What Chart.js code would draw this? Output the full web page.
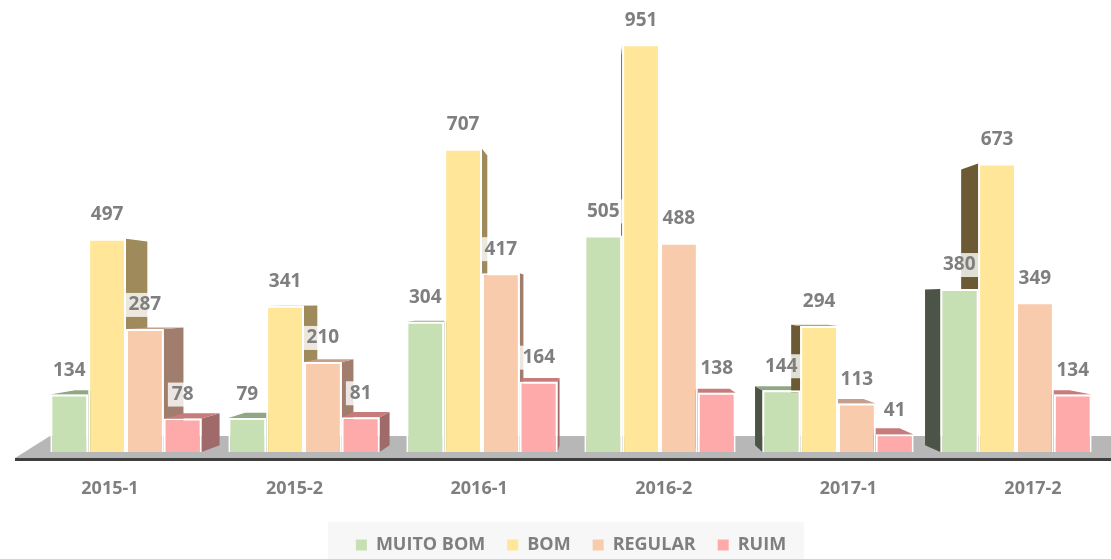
<!DOCTYPE html>
<html>
<head>
<meta charset="utf-8">
<script src="https://cdn.jsdelivr.net/npm/chart.js@4.4.1/dist/chart.umd.min.js"></script>
<style>
    html, body { margin: 0; padding: 0; background: #fff; overflow: hidden; }
    #wrap { position: relative; width: 1142px; height: 559px; }
</style>
</head>
<body>
<div id="wrap"><canvas id="avaliacaoChart"></canvas></div>
<script>
const categories = ['2015-1', '2015-2', '2016-1', '2016-2', '2017-1', '2017-2'];
const seriesNames = ['MUITO BOM', 'BOM', 'REGULAR', 'RUIM'];
const muitoBom = [134, 79, 304, 505, 144, 380];
const bom = [497, 341, 707, 951, 294, 673];
const regular = [287, 210, 417, 488, 113, 349];
const ruim = [78, 81, 164, 138, 41, 134];

// front / top / right side / left side shades for each series
const palette = [
    { front: '#c6e0b4', top: '#8fa783', right: '#7d9270', left: '#4b5446' },
    { front: '#ffe699', top: '#b9a465', right: '#9e8a5a', left: '#6b5a33' },
    { front: '#f8cbad', top: '#c4a08c', right: '#a07d6d', left: '#7a5a4c' },
    { front: '#ffaaaa', top: '#c77b7b', right: '#a06a6a', left: '#7a4848' }
];

const TEXT_GREY = '#7f7f7f';
const FONT = '"Open Sans", "DejaVu Sans", sans-serif';

// fake perspective: back edges pulled toward a vanishing point
const VP = { x: 600, y: 300 };
const DEPTH = 0.045;

function back(px, py) {
    return [px + (VP.x - px) * DEPTH, py + (VP.y - py) * DEPTH];
}

function poly(ctx, pts, color) {
    ctx.beginPath();
    ctx.moveTo(pts[0][0], pts[0][1]);
    for (let i = 1; i < pts.length; i++) ctx.lineTo(pts[i][0], pts[i][1]);
    ctx.closePath();
    ctx.fillStyle = color;
    ctx.fill();
}

const floorPlugin = {
    id: 'floor',
    beforeDatasetsDraw(chart) {
        const ctx = chart.ctx;
        const zeroY = chart.scales.y.getPixelForValue(0);
        const left = chart.chartArea.left - 22;
        ctx.save();
        poly(ctx, [[left, zeroY + 6], [left + 35, zeroY - 16], [chart.width, zeroY - 16], [chart.width, zeroY + 6]], '#b7b7b7');
        ctx.fillStyle = '#3f3f3f';
        ctx.fillRect(left, zeroY + 6, chart.width, 3);
        ctx.restore();
    }
};

const depthPlugin = {
    id: 'depth',
    beforeDatasetsDraw(chart) {
        const ctx = chart.ctx;
        ctx.save();
        chart.data.datasets.forEach((ds, di) => {
            const meta = chart.getDatasetMeta(di);
            meta.data.forEach((bar) => {
                const p = bar.getProps(['x', 'y', 'base', 'width'], true);
                const l = p.x - p.width / 2, r = p.x + p.width / 2;
                const t = p.y, b = p.base;
                const bl = back(l, t), br = back(r, t), blb = back(l, b), brb = back(r, b);
                if (r < VP.x) {
                    poly(ctx, [[r, t], [r, b], brb, br], palette[di].right);
                } else if (l > VP.x) {
                    poly(ctx, [[l, t], [l, b], blb, bl], palette[di].left);
                }
                if (t > VP.y) {
                    poly(ctx, [[l, t], [r, t], br, bl], palette[di].top);
                }
            });
        });
        ctx.restore();
    }
};

const valueLabelPlugin = {
    id: 'valueLabels',
    afterDatasetsDraw(chart) {
        const ctx = chart.ctx;
        ctx.save();
        ctx.font = 'bold 19px ' + FONT;
        ctx.textAlign = 'center';
        ctx.textBaseline = 'middle';
        chart.data.datasets.forEach((ds, di) => {
            chart.getDatasetMeta(di).data.forEach((bar, i) => {
                const txt = String(ds.data[i]);
                const cy = bar.y - 24;
                const w = ctx.measureText(txt).width + 8;
                ctx.fillStyle = 'rgba(255,255,255,0.8)';
                ctx.fillRect(bar.x - w / 2, cy - 12, w, 24);
                ctx.fillStyle = TEXT_GREY;
                ctx.fillText(txt, bar.x, cy);
            });
        });
        ctx.restore();
    }
};

const legendBoxPlugin = {
    id: 'legendBox',
    beforeDraw(chart) {
        const boxes = chart.legend && chart.legend.legendHitBoxes;
        if (!boxes || !boxes.length) return;
        const x0 = Math.min(...boxes.map(b => b.left)) - 28;
        const x1 = Math.max(...boxes.map(b => b.left + b.width)) + 18;
        const ctx = chart.ctx;
        ctx.save();
        ctx.fillStyle = '#f7f7f7';
        ctx.fillRect(x0, boxes[0].top - 14, x1 - x0, chart.height);
        ctx.restore();
    }
};

const seriesData = [muitoBom, bom, regular, ruim];

new Chart(document.getElementById('avaliacaoChart'), {
    type: 'bar',
    data: {
        labels: categories,
        datasets: seriesNames.map((name, i) => ({
            label: name,
            data: seriesData[i],
            backgroundColor: palette[i].front,
            borderColor: '#ffffff',
            borderWidth: 2,
            borderSkipped: 'bottom',
            barPercentage: 1,
            categoryPercentage: 0.85
        }))
    },
    options: {
        responsive: true,
        maintainAspectRatio: false,
        animation: false,
        layout: { padding: { left: 37, right: 37, top: 0, bottom: -5 } },
        plugins: {
            legend: {
                position: 'bottom',
                labels: {
                    boxWidth: 11,
                    boxHeight: 11,
                    padding: 22,
                    color: TEXT_GREY,
                    font: { family: FONT, size: 18, weight: 'bold' },
                    generateLabels(chart) {
                        return chart.data.datasets.map((ds, i) => ({
                            text: ds.label,
                            fillStyle: palette[i].front,
                            strokeStyle: palette[i].front,
                            lineWidth: 0,
                            fontColor: TEXT_GREY,
                            datasetIndex: i
                        }));
                    }
                }
            },
            tooltip: { enabled: false }
        },
        scales: {
            // bars sit on this axis
            x: {
                display: false,
                grid: { display: false }
            },
            // category names, spread slightly wider than the bar groups
            xNames: {
                type: 'linear',
                axis: 'x',
                position: 'bottom',
                offset: false,
                min: -0.395,
                max: 5.39,
                grid: { display: false, drawTicks: false, offset: false },
                border: { display: false },
                ticks: {
                    stepSize: 1,
                    includeBounds: false,
                    autoSkip: false,
                    maxRotation: 0,
                    color: TEXT_GREY,
                    padding: 26,
                    font: { family: FONT, size: 18, weight: 'bold' },
                    callback: (v) => Number.isInteger(v) ? categories[v] : ''
                },
                afterFit(scale) { scale.height = 62; }
            },
            y: {
                display: false,
                min: 0,
                max: 1054
            }
        }
    },
    plugins: [floorPlugin, depthPlugin, valueLabelPlugin, legendBoxPlugin]
});
</script>
</body>
</html>
